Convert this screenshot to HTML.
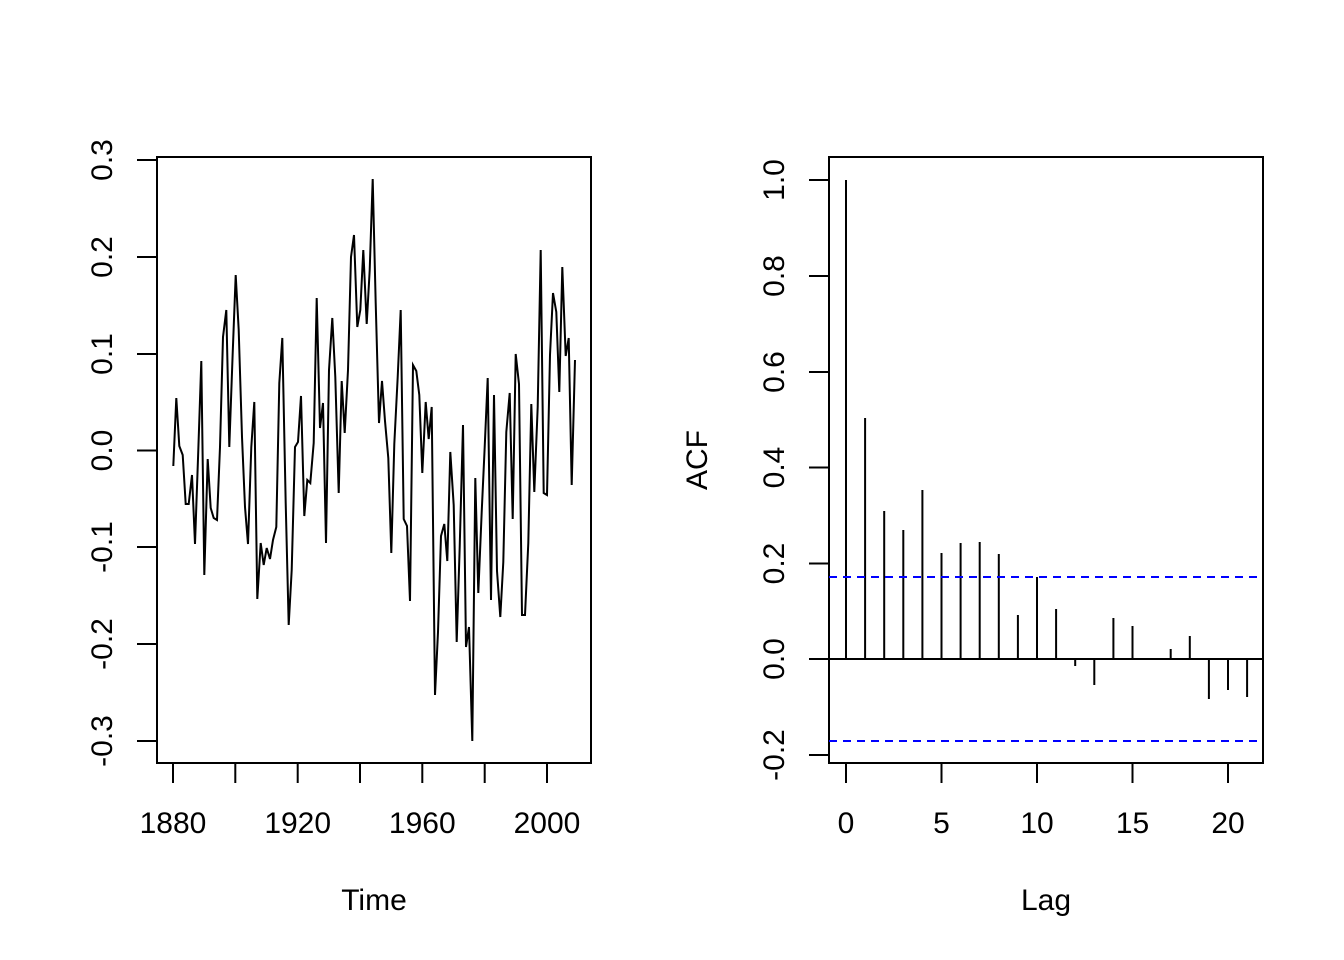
<!DOCTYPE html>
<html><head><meta charset="utf-8"><style>html,body{margin:0;padding:0;background:#fff}svg{display:block}text{font-family:"Liberation Sans",Arial,sans-serif;font-size:30px;fill:#000}</style></head>
<body>
<svg width="1344" height="960" viewBox="0 0 1344 960" xmlns="http://www.w3.org/2000/svg">
<g fill="none" stroke="#000" stroke-width="2">
<rect x="157" y="157" width="434" height="606"/>
<path d="M157 160V741M157 160h-20M157 257h-20M157 354h-20M157 450.5h-20M157 547h-20M157 644h-20M157 741h-20"/>
<path d="M173 763H547M173 763v20M235.3 763v20M297.7 763v20M360 763v20M422.3 763v20M484.7 763v20M547 763v20"/>
<polyline points="173.3,466 176.3,398 179.3,446 182.7,455 185.7,504 188.7,504 192,475 195,544 198.3,450 201.3,361 204.3,575 207.7,459 210.7,508 213.7,518 217,520 220,447 223,337 226.3,310 229.3,447 232.7,353 235.7,275 238.7,330 242,437 245,507 248,544 251.3,447 254.3,402 257.3,599 260.7,543 263.7,565 266.7,548 270,559 273,540 276.3,527 279.3,383 282.3,338 285.7,503 288.7,625 291.7,570 295,447 298,442 301,396 304.3,516 307.3,480 310.3,483 313.7,443 316.7,298 320,428 323,403 326,543 329,370 332.3,318 335.3,377 338.7,493 341.7,381 344.7,433 348,370 351,257 354,235 357.3,327 360.3,310 363.3,250 366.7,324 369.7,270 372.7,179 375.7,303 379,423 382,381 385,421 388.3,458 391.3,553 394.3,444 397.7,377 400.7,310 403.7,519 407,526 410,601 413,365 416.3,371 419.3,395 422.3,473 425.7,402 428.7,439 431.7,407 435,695 438,632 441,536 444.3,524 447.3,561 450.3,452 453.7,505 456.7,642 459.7,547 463,425 466,647 469,627 472.3,741 475.3,478 478.3,593 481.7,512 484.7,447 487.7,378 491,600 494,395 497,571 500.3,617 503.3,562 506.3,432 509.7,393 512.7,519 515.7,354 519,384 522,615 525,615 528.3,543 531.3,404 534.3,492 537.7,407 540.7,250 543.7,493 547,495 550,355 553,293 556.3,312 559.3,392 562.3,267 565.7,356 568.7,338 571.7,485 575,360"/>
<rect x="829" y="157" width="434" height="606"/>
<path d="M829 180V755M829 180h-20M829 276h-20M829 372h-20M829 467.5h-20M829 563.5h-20M829 659h-20M829 755h-20"/>
<path d="M846 763H1228M846 763v20M941.5 763v20M1037 763v20M1132.5 763v20M1228 763v20"/>
<path d="M829 659H1263"/>
<path d="M846 659V180M865.1 659V418M884.2 659V511M903.3 659V530M922.4 659V490M941.5 659V553M960.6 659V543M979.7 659V542M998.8 659V554M1017.9 659V615M1037 659V577M1056.1 659V609M1075.2 659V666M1094.3 659V685M1113.4 659V618M1132.5 659V626M1151.6 659V660M1170.7 659V649M1189.8 659V636M1208.9 659V699M1228 659V690M1247.1 659V697"/>
<path d="M829 577H1263M829 741H1263" stroke="#00f" stroke-dasharray="8,6"/>
</g>
<g text-anchor="middle">
<text x="173" y="833">1880</text><text x="297.7" y="833">1920</text><text x="422.3" y="833">1960</text><text x="547" y="833">2000</text>
<text x="374" y="910">Time</text>
<text x="846" y="833">0</text><text x="941.5" y="833">5</text><text x="1037" y="833">10</text><text x="1132.5" y="833">15</text><text x="1228" y="833">20</text>
<text x="1046" y="910">Lag</text>
<text transform="translate(112,160) rotate(-90)">0.3</text>
<text transform="translate(112,257) rotate(-90)">0.2</text>
<text transform="translate(112,354) rotate(-90)">0.1</text>
<text transform="translate(112,450.5) rotate(-90)">0.0</text>
<text transform="translate(112,547) rotate(-90)">-0.1</text>
<text transform="translate(112,644) rotate(-90)">-0.2</text>
<text transform="translate(112,741) rotate(-90)">-0.3</text>
<text transform="translate(784,180) rotate(-90)">1.0</text>
<text transform="translate(784,276) rotate(-90)">0.8</text>
<text transform="translate(784,372) rotate(-90)">0.6</text>
<text transform="translate(784,467.5) rotate(-90)">0.4</text>
<text transform="translate(784,563.5) rotate(-90)">0.2</text>
<text transform="translate(784,659) rotate(-90)">0.0</text>
<text transform="translate(784,755) rotate(-90)">-0.2</text>
<text transform="translate(707,460) rotate(-90)">ACF</text>
</g>
</svg>
</body></html>
